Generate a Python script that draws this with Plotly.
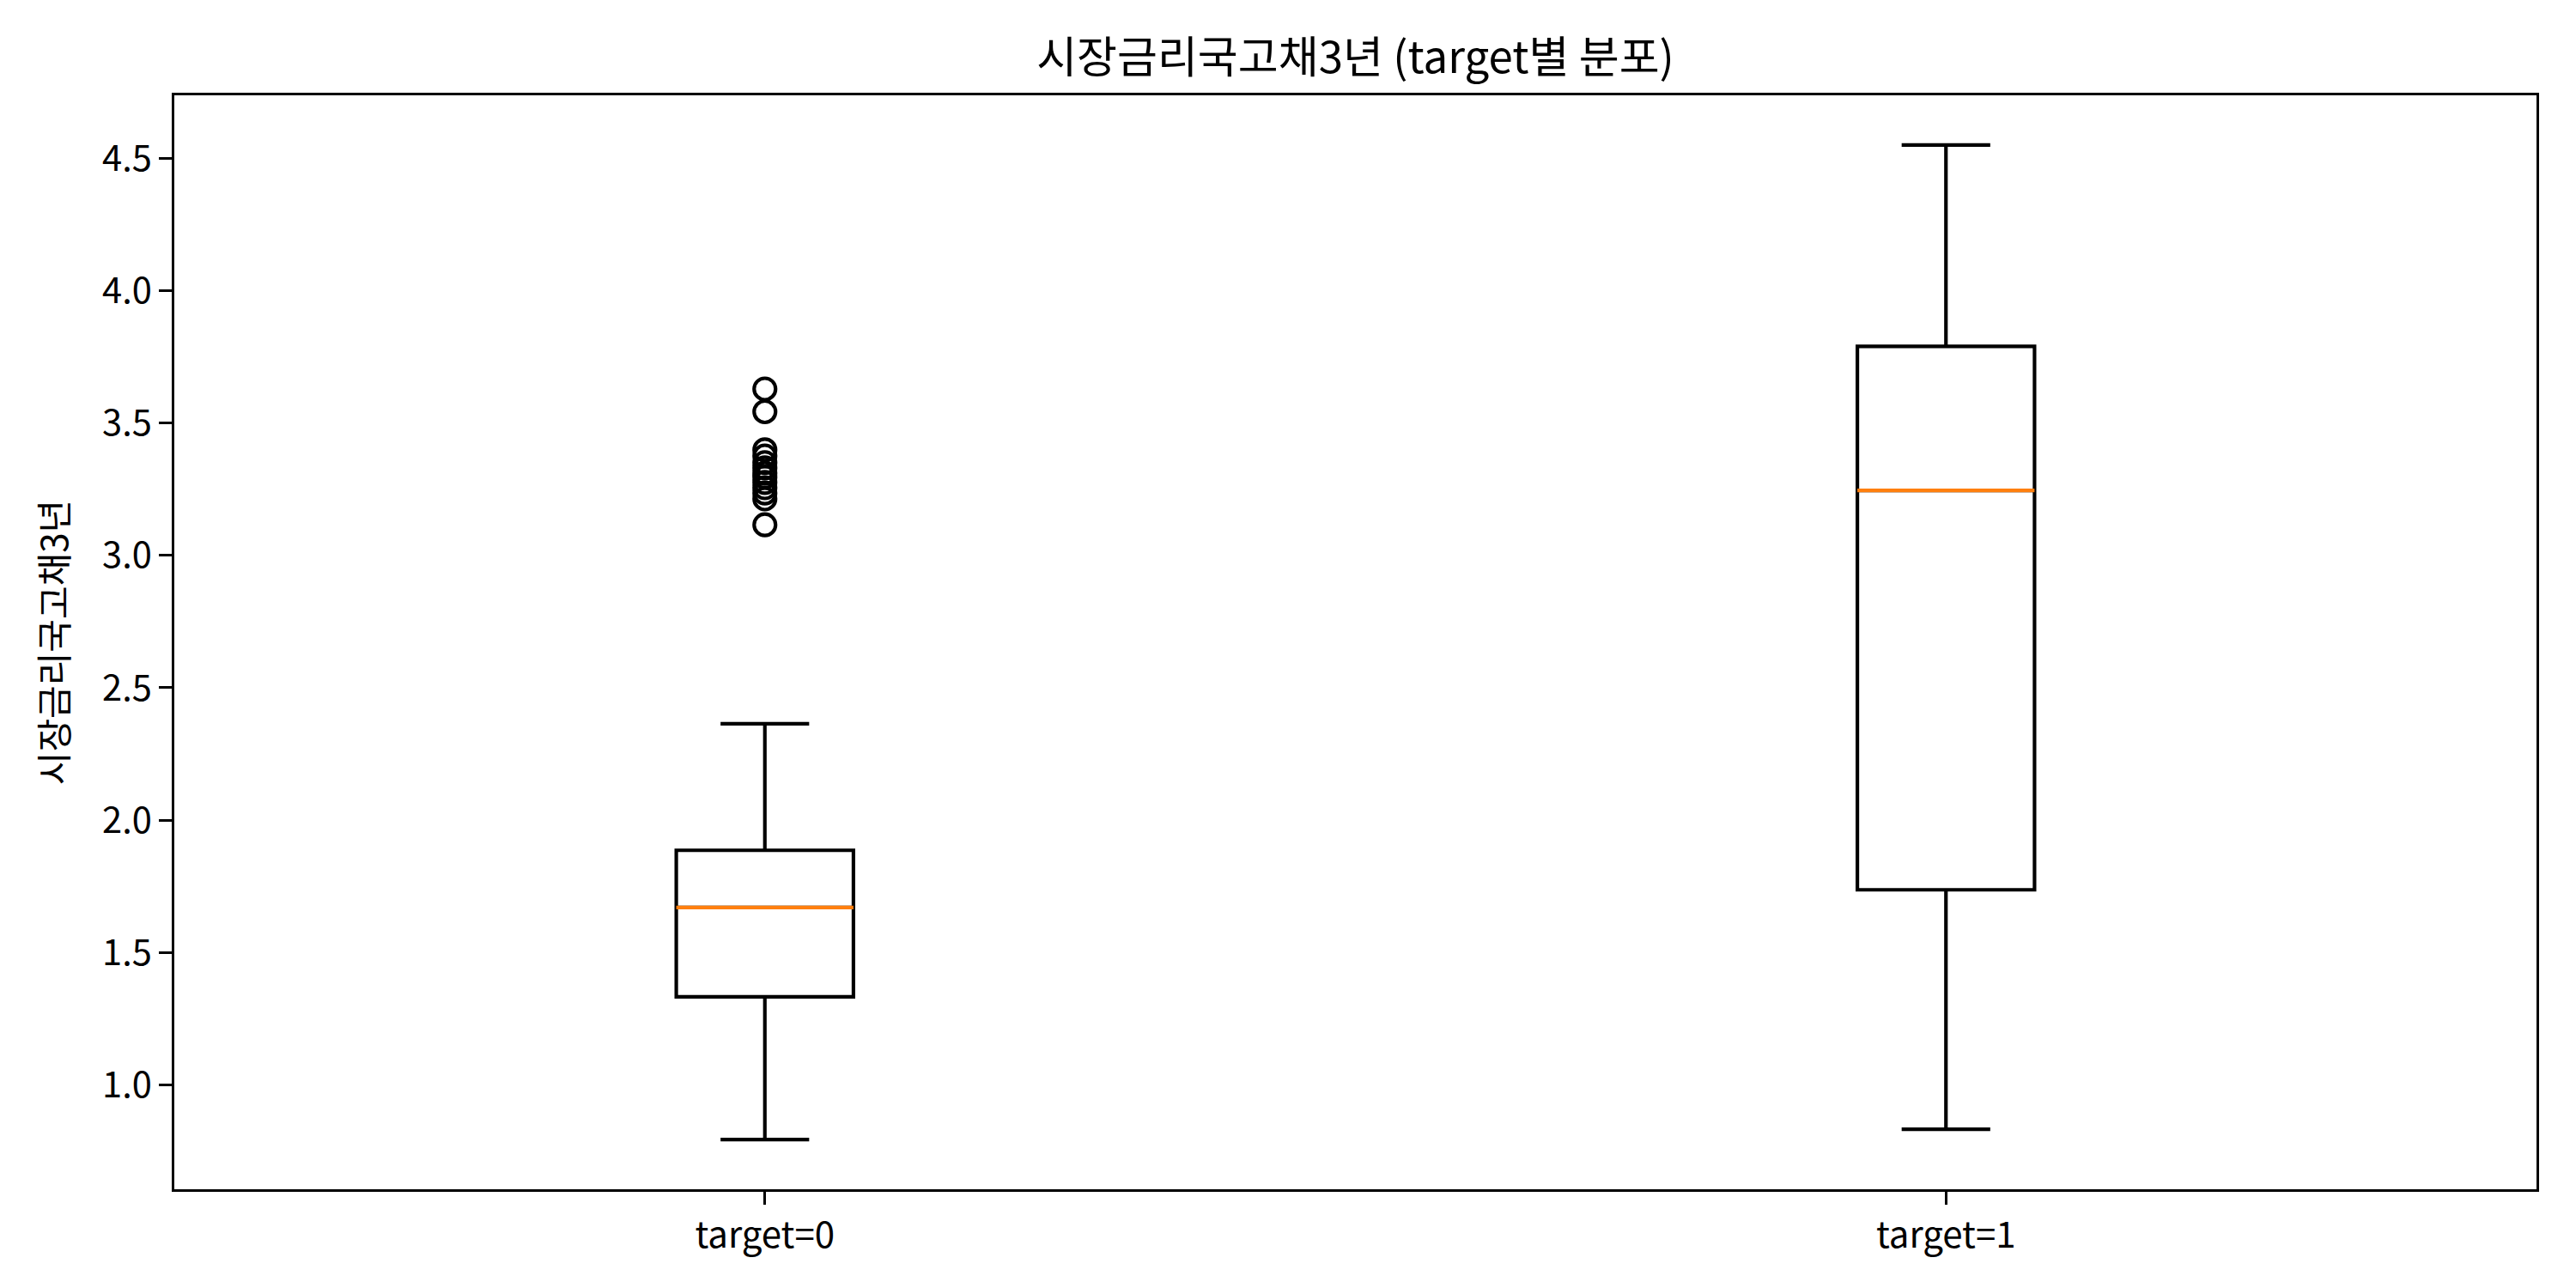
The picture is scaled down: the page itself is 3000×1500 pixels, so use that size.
import plotly.graph_objects as go

# ---- data ----
categories = ["target=0", "target=1"]
positions = [1, 2]
q1 = [1.333, 1.737]
median = [1.670, 3.245]
q3 = [1.886, 3.789]
lower_whisker = [0.794, 0.833]
upper_whisker = [2.364, 4.549]
outliers_target0 = [3.628, 3.542, 3.398, 3.375, 3.35, 3.33, 3.31, 3.295,
                    3.275, 3.255, 3.235, 3.213, 3.115]
outliers_target1 = []

title_text = "시장금리국고채3년 (target별 분포)"
y_label = "시장금리국고채3년"

# ---- style ----
FONT = "Noto Sans CJK KR, Noto Sans, DejaVu Sans, sans-serif"
LW = 4.17
BOX_W = 0.15
W, H = 3000, 1500

fig = go.Figure()

fig.add_trace(go.Box(
    x=positions, q1=q1, median=median, q3=q3,
    lowerfence=lower_whisker, upperfence=upper_whisker,
    width=BOX_W, whiskerwidth=0.5,
    line=dict(color="black", width=LW),
    fillcolor="rgba(0,0,0,0)",
    boxpoints=False, showlegend=False, hoverinfo="skip",
))

# orange median lines
mx, my = [], []
for p, m in zip(positions, median):
    mx += [p - BOX_W / 2, p + BOX_W / 2, None]
    my += [m, m, None]
fig.add_trace(go.Scatter(
    x=mx, y=my, mode="lines",
    line=dict(color="#ff7f0e", width=LW),
    showlegend=False, hoverinfo="skip",
))

# outliers
all_out = [(positions[0], v) for v in outliers_target0] + [(positions[1], v) for v in outliers_target1]
fig.add_trace(go.Scatter(
    x=[a for a, _ in all_out], y=[b for _, b in all_out], mode="markers",
    marker=dict(symbol="circle-open", size=25, color="black",
                line=dict(color="black", width=LW)),
    showlegend=False, hoverinfo="skip",
))

# y range with matplotlib-like 5% margins
all_vals = lower_whisker + upper_whisker + outliers_target0 + outliers_target1
lo, hi = min(all_vals), max(all_vals)
pad = (hi - lo) * 0.05

fig.update_layout(
    width=W, height=H,
    margin=dict(l=203, r=46, t=111, b=115),
    paper_bgcolor="white", plot_bgcolor="white",
    font=dict(family=FONT, size=41.7, color="black"),
    title=dict(text=title_text, x=0.5, xanchor="center",
               xref="paper", yref="container", y=1 - 67 / H, yanchor="middle",
               font=dict(size=51, family=FONT, color="black")),
    showlegend=False,
)

fig.update_xaxes(
    range=[0.5, 2.5], tickmode="array", tickvals=positions, ticktext=categories,
    showgrid=False, zeroline=False,
    showline=True, mirror=True, linecolor="black", linewidth=3.33,
    ticks="outside", ticklen=14.6, tickwidth=3.33, tickcolor="black",
    tickfont=dict(size=42, family=FONT, color="black"),
)
fig.update_yaxes(
    range=[lo - pad, hi + pad], tickmode="array",
    tickvals=[1.0, 1.5, 2.0, 2.5, 3.0, 3.5, 4.0, 4.5],
    ticktext=["1.0", "1.5", "2.0", "2.5", "3.0", "3.5", "4.0", "4.5"],
    showgrid=False, zeroline=False,
    showline=True, mirror=True, linecolor="black", linewidth=3.33,
    ticks="outside", ticklen=14.6, tickwidth=3.33, tickcolor="black",
    tickfont=dict(size=41.7, family=FONT, color="black"),
    title=dict(text=y_label, standoff=27, font=dict(size=42, family=FONT, color="black")),
)

fig.write_html("out.html")
